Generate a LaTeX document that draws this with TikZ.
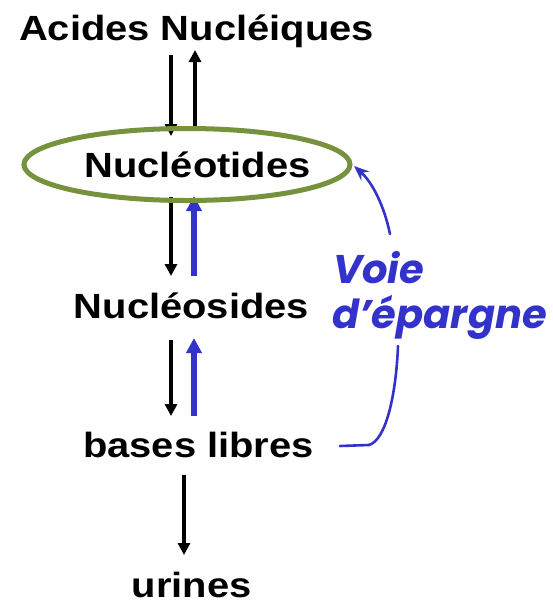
\documentclass[tikz,border=0pt]{standalone}
\usepackage{fontspec}
\setmainfont{Liberation Sans}
\newfontfamily\voiefont{Poppins}
\usetikzlibrary{arrows.meta,shapes.geometric}
\definecolor{ringgreen}{RGB}{118,146,60}
\definecolor{salvblue}{RGB}{51,51,204}
\tikzset{
  lbl/.style={anchor=base,inner sep=0pt,font=\fontsize{35}{40}\selectfont\bfseries},
  blackarr/.style={line width=3.4pt,-{Triangle[length=12pt,width=12pt]}},
  bluearr/.style={line width=5.5pt,salvblue,-{Triangle[length=15pt,width=15pt]}},
  ring/.style={ellipse,draw=ringgreen,line width=5pt,minimum width=326pt,minimum height=72pt,inner sep=0pt},
  curve/.style={salvblue,line width=2.6pt,line cap=round},
  voielbl/.style={anchor=base west,inner sep=0pt,text=salvblue,
    font=\voiefont\fontsize{40}{44}\selectfont\bfseries\itshape},
}
\newcommand{\wide}[1]{\scalebox{1.14}[1]{#1}}
\begin{document}
\begin{tikzpicture}[x=1pt,y=-1pt]
\useasboundingbox (0,0) rectangle (553,603);
\node[lbl] (acides) at (196.5,40) {\wide{Acides Nucléiques}};
\node[lbl] (nt) at (197.5,177) {\wide{Nucléotides}};
\node[lbl] (ns) at (191.5,318) {\wide{Nucléosides}};
\node[lbl] (bl) at (198.5,457) {\wide{bases libres}};
\node[lbl] (ur) at (191.5,597) {\wide{urines}};
\node[voielbl] (voie) at (333,283) {Voie};
\node[voielbl] (epargne) at (332,328) {d’épargne};
% coordinates for connector ends
\coordinate (a1s) at (171,55);  \coordinate (a1e) at (171,136);
\coordinate (a2s) at (195,128); \coordinate (a2e) at (195,50);
\coordinate (b1s) at (171,197); \coordinate (b1e) at (171,276);
\coordinate (b2s) at (194,276); \coordinate (b2e) at (194,196);
\coordinate (c1s) at (171,340); \coordinate (c1e) at (171,416);
\coordinate (c2s) at (194,416); \coordinate (c2e) at (194,338);
\coordinate (d1s) at (184,475); \coordinate (d1e) at (184,555);
\coordinate (vs) at (340,446);
\coordinate (vm) at (398,346);
\coordinate (vu) at (390,234);
\coordinate (ve) at (354,166);
\draw[blackarr] (a1s) -- (a1e);
\draw[blackarr] (a2s) -- (a2e);
\draw[blackarr] (b1s) -- (b1e);
\draw[bluearr] (b2s) -- (b2e);
\draw[blackarr] (c1s) -- (c1e);
\draw[bluearr] (c2s) -- (c2e);
\draw[blackarr] (d1s) -- (d1e);
\node[ring] (ringnode) at (187,164.5) {};
\draw[curve] (vs) -- (369,445) .. controls (386,440) and (396,395) .. (vm);
\draw[curve,-{Stealth[length=15pt,width=12pt]}] (vu) .. controls (384,205) and (372,182) .. (ve);
\end{tikzpicture}
\end{document}
